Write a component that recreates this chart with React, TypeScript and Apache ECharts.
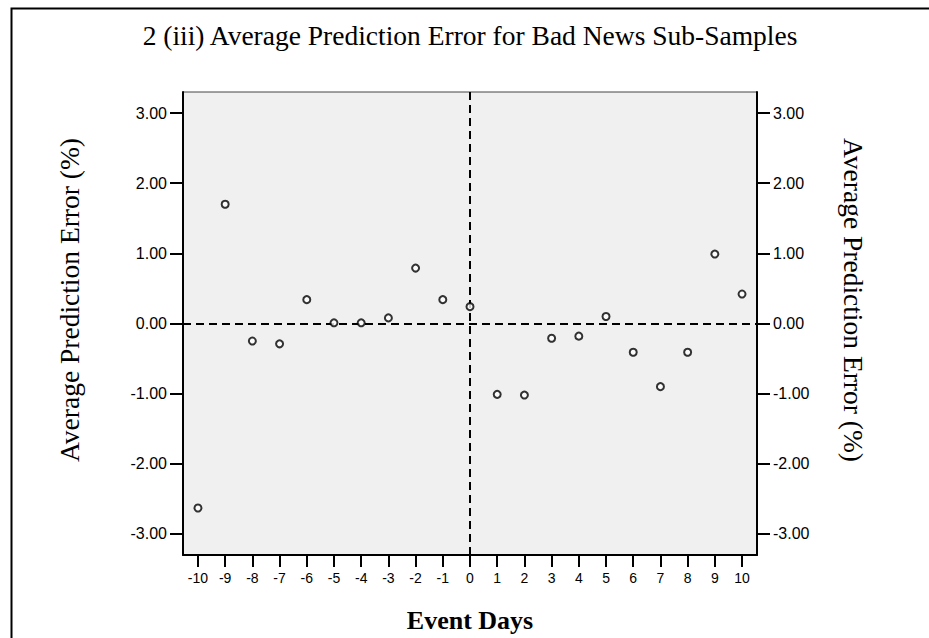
import React, { useEffect, useRef } from "react";
import * as echarts from "echarts";

const eventDays = [-10, -9, -8, -7, -6, -5, -4, -3, -2, -1, 0, 1, 2, 3, 4, 5, 6, 7, 8, 9, 10];
const avgPredictionError = [-2.63, 1.7, -0.25, -0.29, 0.34, 0.01, 0.01, 0.08, 0.79, 0.34, 0.24, -1.01, -1.02, -0.21, -0.18, 0.1, -0.41, -0.9, -0.41, 0.99, 0.42];
const yTicks = [-3, -2, -1, 0, 1, 2, 3];
const xTicks = eventDays;

const titleText = "2 (iii) Average Prediction Error for Bad News Sub-Samples";
const yName = "Average Prediction Error (%)";
const xName = "Event Days";

export default function App() {
  const ref = useRef<HTMLDivElement>(null);
  useEffect(() => {
    document.body.style.margin = "0";
    const chart = echarts.init(ref.current!, null, { renderer: "svg" });
    const serif = "'Liberation Serif', 'Times New Roman', serif";
    const sans = "'Liberation Sans', Arial, sans-serif";
    const yAxisCommon = (pos: "left" | "right") => ({
      type: "value",
      position: pos,
      min: -3.3,
      max: 3.3,
      splitLine: { show: false },
      axisLine: { show: true, onZero: false, lineStyle: { color: "#000", width: 2 } },
      axisTick: { show: true, length: 13, customValues: yTicks, lineStyle: { color: "#000", width: 2 } },
      axisLabel: {
        customValues: yTicks,
        margin: 16,
        fontFamily: sans,
        fontSize: 16,
        color: "#000",
        formatter: (v: number) => v.toFixed(2),
      },
    });
    const yNameStyle = {
      text: yName,
      fontFamily: serif,
      fontSize: 27.5,
      fill: "#000",
      align: "center",
      verticalAlign: "middle",
    };
    chart.setOption({
      animation: false,
      backgroundColor: "#fff",
      title: {
        text: titleText,
        left: 465,
        textAlign: "center",
        top: 16,
        textStyle: { fontFamily: serif, fontSize: 27.5, fontWeight: "normal", color: "#000" },
      },
      graphic: [
        {
          type: "rect",
          left: 9,
          top: 6,
          shape: { x: 0, y: 0, width: 1000, height: 1000 },
          style: { fill: "none", stroke: "#000", lineWidth: 2 },
          z: -1,
        },
        {
          type: "text",
          x: 69,
          y: 300,
          rotation: Math.PI / 2,
          style: yNameStyle,
        },
        {
          type: "text",
          x: 853,
          y: 300,
          rotation: -Math.PI / 2,
          style: yNameStyle,
        },
      ],
      grid: {
        left: 183,
        right: 172,
        top: 92,
        bottom: 83,
        show: true,
        backgroundColor: "#f0f0f0",
        borderColor: "#444",
        borderWidth: 1,
      },
      xAxis: {
        type: "value",
        min: -10.55,
        max: 10.55,
        splitLine: { show: false },
        axisLine: { show: true, onZero: false, lineStyle: { color: "#000", width: 2 } },
        axisTick: { show: true, length: 12, customValues: xTicks, lineStyle: { color: "#000", width: 2 } },
        axisLabel: {
          customValues: xTicks,
          margin: 16,
          fontFamily: sans,
          fontSize: 14,
          color: "#000",
          formatter: (v: number) => String(Math.round(v)),
        },
        name: xName,
        nameLocation: "middle",
        nameGap: 52,
        nameTextStyle: { fontFamily: serif, fontSize: 26, fontWeight: "bold", color: "#000" },
      },
      yAxis: [yAxisCommon("left"), yAxisCommon("right")],
      series: [
        {
          type: "scatter",
          yAxisIndex: 0,
          data: eventDays.map((d, i) => [d, avgPredictionError[i]]),
          symbol: "circle",
          symbolSize: 7,
          itemStyle: { color: "#fff", borderColor: "#000", borderWidth: 2 },
          z: 3,
          markLine: {
            silent: true,
            symbol: "none",
            label: { show: false },
            lineStyle: { color: "#000", width: 2, type: [8, 5] },
            data: [{ xAxis: 0 }, { yAxis: 0 }],
            z: 2,
          },
        },
      ],
    });
    return () => chart.dispose();
  }, []);
  return <div ref={ref} style={{ width: 929, height: 638 }} />;
}
